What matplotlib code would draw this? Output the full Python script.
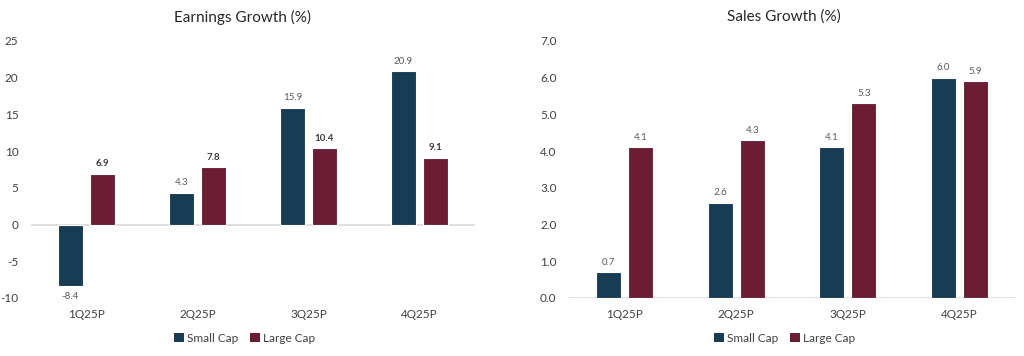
import matplotlib
matplotlib.use("Agg")
import matplotlib.pyplot as plt
import numpy as np
from matplotlib.patches import Patch

plt.rcParams['font.family'] = ['Lato', 'DejaVu Sans']

categories = ["1Q25P", "2Q25P", "3Q25P", "4Q25P"]
earn_small = [-8.4, 4.3, 15.9, 20.9]
earn_large = [6.9, 7.8, 10.4, 9.1]
sales_small = [0.7, 2.6, 4.1, 6.0]
sales_large = [4.1, 4.3, 5.3, 5.9]
earn_ticks = [-10, -5, 0, 5, 10, 15, 20, 25]
sales_ticks = [0.0, 1.0, 2.0, 3.0, 4.0, 5.0, 6.0, 7.0]

C_SMALL = "#173C54"
C_LARGE = "#6B1D33"
GRID = "#D9D9D9"
TXT = "#404040"

fig = plt.figure(figsize=(10.24, 3.56), dpi=100)
ax1 = fig.add_axes([31/1024, 58/356, 444/1024, 257/356])
ax2 = fig.add_axes([569/1024, 58/356, 446/1024, 257/356])

x = np.arange(len(categories))
w = 0.225
off = 0.144


def style(ax, ticks, fmt):
    for s in ax.spines.values():
        s.set_visible(False)
    ax.set_xlim(-0.5, 3.5)
    ax.set_ylim(ticks[0], ticks[-1])
    ax.set_yticks(ticks)
    ax.set_yticklabels([fmt.format(t) for t in ticks])
    ax.set_xticks(x)
    ax.set_xticklabels(categories)
    ax.tick_params(axis='both', length=0, labelsize=8.5, colors=TXT)
    ax.tick_params(axis='y', pad=9)
    ax.tick_params(axis='x', pad=8)
    ax.axhline(0, color=GRID, lw=1.2, zorder=1)


def label(ax, xs, vals, fmt, color, weight, dy):
    for xi, v in zip(xs, vals):
        if v >= 0:
            ax.annotate(fmt.format(v), (xi, v), xytext=(0, dy), textcoords='offset points',
                        ha='center', va='bottom', fontsize=7, color=color, fontweight=weight)
        else:
            ax.annotate(fmt.format(v), (xi, v), xytext=(0, -dy), textcoords='offset points',
                        ha='center', va='top', fontsize=7, color=color, fontweight=weight)


# Earnings
ax1.bar(x - off, earn_small, w, color=C_SMALL, edgecolor='white', lw=0.8, zorder=2)
ax1.bar(x + off, earn_large, w, color=C_LARGE, edgecolor='white', lw=0.8, zorder=2)
style(ax1, earn_ticks, "{:d}")
label(ax1, x - off, earn_small, "{:.1f}", "#595959", 'normal', 4)
label(ax1, x + off, earn_large, "{:.1f}", "#3a3a3a", 'bold', 4)

# Sales
ax2.bar(x - off, sales_small, w, color=C_SMALL, edgecolor='white', lw=0.8, zorder=2)
ax2.bar(x + off, sales_large, w, color=C_LARGE, edgecolor='white', lw=0.8, zorder=2)
style(ax2, sales_ticks, "{:.1f}")
label(ax2, x - off, sales_small, "{:.1f}", "#595959", 'normal', 4)
label(ax2, x + off, sales_large, "{:.1f}", "#595959", 'normal', 4)

fig.text(243/1024, 1 - 17/356, "Earnings Growth (%)", ha='center', va='center', fontsize=11, color='#262626')
fig.text(784/1024, 1 - 17/356, "Sales Growth (%)", ha='center', va='center', fontsize=11, color='#262626')

handles = [Patch(facecolor=C_SMALL, label="Small Cap"), Patch(facecolor=C_LARGE, label="Large Cap")]
for cx in (245/1024, 785/1024):
    fig.legend(handles=handles, loc='center', bbox_to_anchor=(cx, 1 - 338/356), ncol=2,
               frameon=False, fontsize=8.5, handlelength=0.8, handleheight=0.8,
               handletextpad=0.3, columnspacing=1.0, labelcolor=TXT)

fig.savefig("out.png", dpi=100, facecolor='white')
